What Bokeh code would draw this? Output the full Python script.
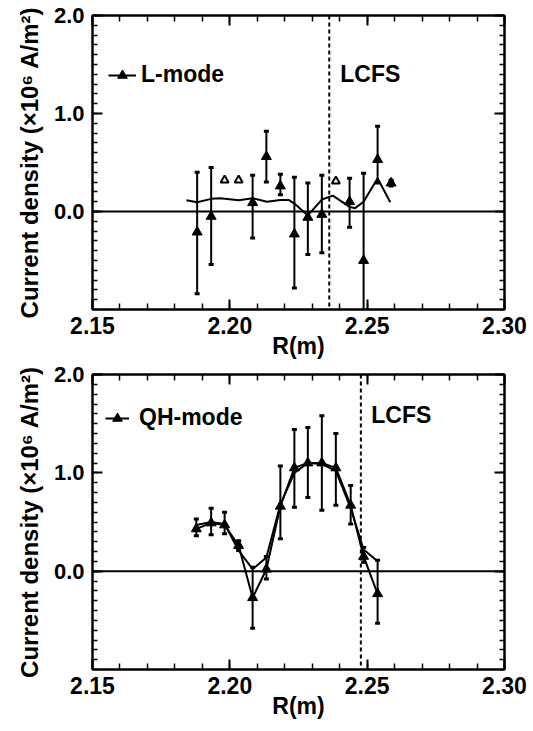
import numpy as np
from bokeh.plotting import figure
from bokeh.layouts import column
from bokeh.models import (FixedTicker, PrintfTickFormatter, LinearAxis, Span,
                          Label, Legend, LegendItem)
from bokeh.embed import file_html
from bokeh.resources import INLINE

FONT = "Liberation Sans"

# ---------------- data ----------------
x_ticks = [2.15, 2.20, 2.25, 2.30]
y_ticks = [0.0, 1.0, 2.0]

# L-mode measured points with error bars
l_r = [2.1881, 2.1932, 2.2083, 2.2133, 2.2184, 2.2235, 2.2284, 2.2335, 2.2436, 2.2487, 2.2538, 2.2587]
l_j = [-0.21, -0.05, 0.09, 0.56, 0.26, -0.23, -0.06, -0.03, 0.10, -0.50, 0.53, 0.29]
l_hi = [0.40, 0.45, 0.37, 0.82, 0.38, 0.35, 0.29, 0.37, 0.34, 0.39, 0.87, 0.32]
l_lo = [-0.84, -0.54, -0.27, 0.30, 0.17, -0.78, -0.44, -0.42, -0.16, -1.30, 0.29, 0.26]
# L-mode small points (no visible error bars)
ls_r = [2.1981, 2.2032, 2.2386]
ls_j = [0.32, 0.32, 0.31]
# L-mode fitted profile
lf_r = [2.1842, 2.1881, 2.1932, 2.1965, 2.2032, 2.2084, 2.2135, 2.2184, 2.2214, 2.2235,
        2.2284, 2.2335, 2.2375, 2.2436, 2.2456, 2.2487, 2.2538, 2.2584]
lf_j = [0.115, 0.095, 0.129, 0.135, 0.115, 0.135, 0.100, 0.118, 0.118, 0.081,
        -0.040, 0.122, 0.162, 0.047, 0.034, 0.100, 0.340, 0.094]
l_lcfs = 2.2362

# QH-mode
q_r = [2.1878, 2.1932, 2.1981, 2.2032, 2.2083, 2.2133, 2.2184, 2.2235, 2.2284, 2.2335, 2.2386, 2.2440, 2.2487, 2.2538]
q_j = [0.43, 0.49, 0.47, 0.26, -0.27, 0.02, 0.66, 1.05, 1.10, 1.10, 1.05, 0.67, 0.15, -0.23]
q_hi = [0.53, 0.64, 0.60, 0.31, 0.04, 0.15, 1.07, 1.44, 1.46, 1.58, 1.40, 0.87, 0.24, 0.11]
q_lo = [0.36, 0.37, 0.38, 0.21, -0.58, -0.08, 0.33, 0.65, 0.75, 0.62, 0.67, 0.48, 0.09, -0.53]
q_fit = [0.47, 0.50, 0.48, 0.21, 0.02, 0.14, 0.68, 1.00, 1.10, 1.09, 1.02, 0.64, 0.22, 0.10]
q_lcfs = 2.2477

BORDER_LEFT = 92
BORDER_RIGHT = 26
FRAME_W = 412
FRAME_H = 295


def make_panel(border_top, border_bottom):
    p = figure(width=BORDER_LEFT + FRAME_W + BORDER_RIGHT,
               height=border_top + FRAME_H + border_bottom,
               x_range=(2.15, 2.30), y_range=(-1.0, 2.0),
               output_backend="svg", toolbar_location=None,
               min_border_left=BORDER_LEFT, min_border_right=BORDER_RIGHT,
               min_border_top=border_top, min_border_bottom=border_bottom,
               background_fill_color="white", border_fill_color="white")
    p.grid.visible = False
    p.outline_line_color = "black"
    p.outline_line_width = 2

    xt = FixedTicker(ticks=x_ticks, minor_ticks=list(np.round(np.arange(2.15, 2.3001, 0.01), 3)))
    yt = FixedTicker(ticks=y_ticks, minor_ticks=list(np.round(np.arange(-1.0, 2.0001, 0.1), 2)))

    xa = p.below[0]
    ya = p.left[0]
    xa.ticker = xt
    xa.formatter = PrintfTickFormatter(format="%.2f")
    ya.ticker = yt
    ya.formatter = PrintfTickFormatter(format="%.1f")

    top = LinearAxis(ticker=xt, major_label_overrides={t: "" for t in x_ticks},
                     major_label_standoff=0, major_label_text_font_size="1px")
    right = LinearAxis(ticker=yt, major_label_overrides={t: "" for t in y_ticks},
                       major_label_standoff=0, major_label_text_font_size="1px")
    p.add_layout(top, "above")
    p.add_layout(right, "right")

    for ax in [xa, top]:
        ax.major_tick_in = 10
        ax.major_tick_out = 0
        ax.minor_tick_in = 6
        ax.minor_tick_out = 0
    for ax in [ya, right]:
        ax.major_tick_in = 10
        ax.major_tick_out = 0
        ax.minor_tick_in = 5
        ax.minor_tick_out = 0
    for ax in [xa, ya, top, right]:
        ax.axis_line_width = 2
        ax.major_tick_line_width = 2
        ax.minor_tick_line_width = 1.5
        ax.axis_line_color = "black"
        ax.major_tick_line_color = "black"
        ax.minor_tick_line_color = "black"
        ax.major_label_text_font = FONT
        ax.major_label_text_font_style = "bold"
        ax.major_label_text_color = "black"

    xa.major_label_text_font_size = "23px"
    xa.major_label_standoff = 7
    xa.axis_label = "R(m)"
    xa.axis_label_text_font = FONT
    xa.axis_label_text_font_style = "bold"
    xa.axis_label_text_font_size = "23px"
    xa.axis_label_text_color = "black"
    xa.axis_label_standoff = -4

    ya.major_label_text_font_size = "22px"
    ya.major_label_standoff = 8
    ya.axis_label = "Current density (\u00d710\u2076 A/m\u00b2)"
    ya.axis_label_text_font = FONT
    ya.axis_label_text_font_style = "bold"
    ya.axis_label_text_font_size = "24px"
    ya.axis_label_text_color = "black"
    ya.axis_label_standoff = 8

    p.add_layout(Span(location=0, dimension="width", line_color="black", line_width=2))
    return p


def add_errorbars(p, r, lo, hi):
    p.segment(x0=r, y0=lo, x1=r, y1=hi, line_color="black", line_width=2)
    p.scatter(r, hi, marker="dash", size=5, line_color="black", line_width=3)
    p.scatter(r, lo, marker="dash", size=5, line_color="black", line_width=3)


def text_style():
    return dict(text_font=FONT, text_font_style="bold", text_font_size="23px",
                text_color="black", text_baseline="middle")


def legend_style():
    return dict(padding=0, margin=0, spacing=0, border_line_alpha=0, background_fill_alpha=0,
                label_text_font=FONT, label_text_font_style="bold",
                label_text_font_size="23px", label_text_color="black")


# ---------------- top panel: L-mode ----------------
p1 = make_panel(15, 51)
add_errorbars(p1, l_r, l_lo, l_hi)
fit1 = p1.line(lf_r, lf_j, line_color="black", line_width=2)
tri1 = p1.scatter(l_r, l_j, marker="triangle", size=10, fill_color="black", line_color="black")
p1.scatter(ls_r, ls_j, marker="triangle", size=8, fill_color="white", line_color="black", line_width=2)
p1.add_layout(Span(location=l_lcfs, dimension="height", line_color="black",
                   line_width=2, line_dash="4 3"))
p1.add_layout(Label(x=2.2402, y=1.40, text="LCFS", **text_style()))
leg1 = Legend(items=[LegendItem(label="L-mode", renderers=[fit1, tri1])],
              location=(16, 221), glyph_width=28, glyph_height=24, label_standoff=5,
              **legend_style())
p1.add_layout(leg1)

# ---------------- bottom panel: QH-mode ----------------
p2 = make_panel(13, 54)
add_errorbars(p2, q_r, q_lo, q_hi)
p2.line(q_r, q_fit, line_color="black", line_width=2)
dat2 = p2.line(q_r, q_j, line_color="black", line_width=2)
tri2 = p2.scatter(q_r, q_j, marker="triangle", size=10, fill_color="black", line_color="black")
p2.add_layout(Span(location=q_lcfs, dimension="height", line_color="black",
                   line_width=2, line_dash="4 3"))
p2.add_layout(Label(x=2.2515, y=1.585, text="LCFS", **text_style()))
leg2 = Legend(items=[LegendItem(label="QH-mode", renderers=[dat2, tri2])],
              location=(13, 238), glyph_width=24, glyph_height=24, label_standoff=10,
              **legend_style())
p2.add_layout(leg2)

layout = column(p1, p2, spacing=0)
open("out.html", "w").write(file_html(layout, INLINE))
